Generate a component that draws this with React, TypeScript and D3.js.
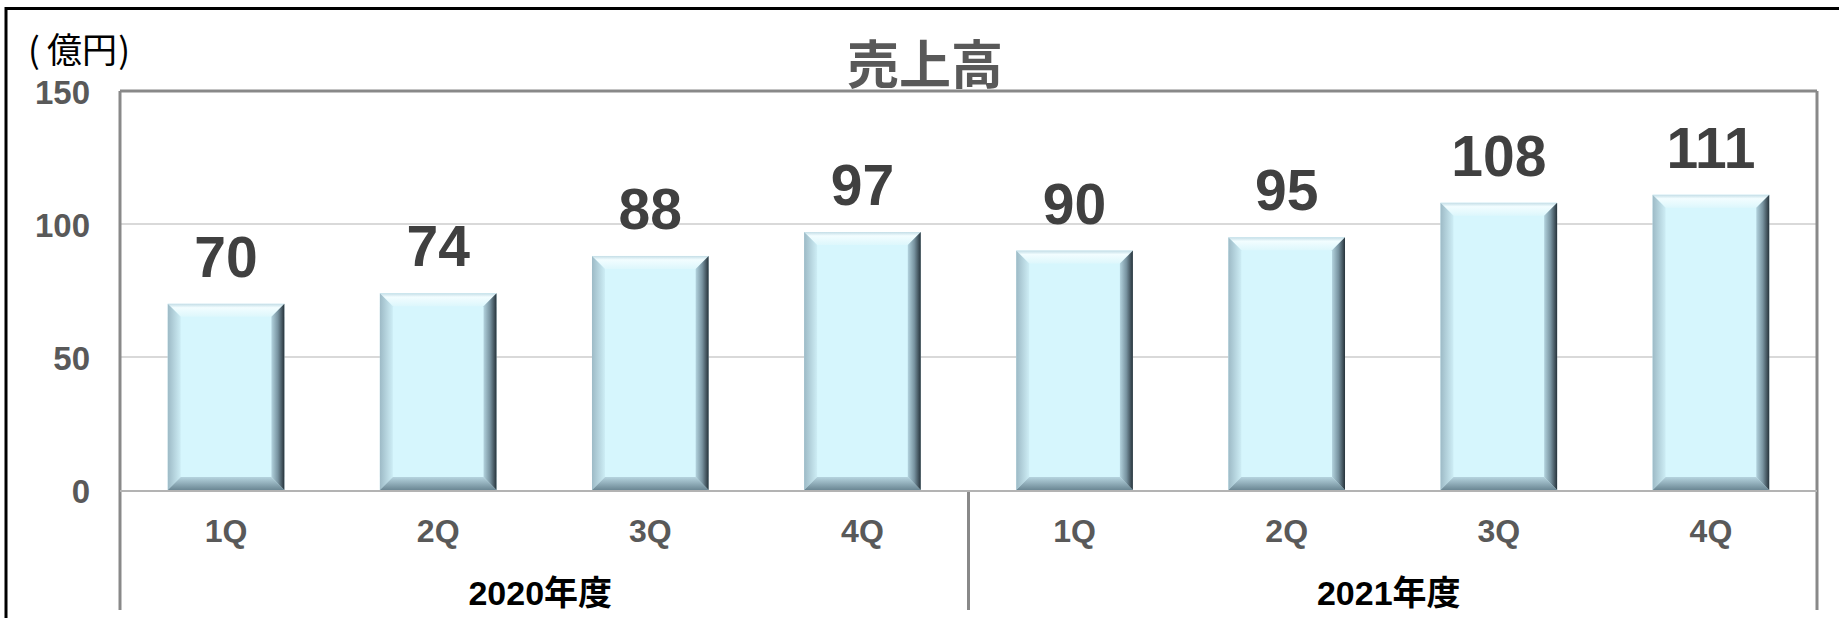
import React from 'react';
import * as d3 from 'd3';

const categories = ['1Q', '2Q', '3Q', '4Q', '1Q', '2Q', '3Q', '4Q'];
const years = ['2020年度', '2021年度'];
const sales = [70, 74, 88, 97, 90, 95, 108, 111];
const yTicks = [0, 50, 100, 150];
const title = '売上高';
const unitLabel = '億円';

const W = 1839;
const H = 618;
const plotL = 120;
const plotR = 1817;
const plotT = 91;
const plotB = 490;
const axisBottom = 610;

export default function App() {
  const x = d3
    .scaleBand<number>()
    .domain(d3.range(sales.length))
    .range([plotL, plotR])
    .paddingInner(0.45)
    .paddingOuter(0.225);
  const y = d3.scaleLinear().domain([0, 150]).range([plotB, plotT]);
  const groupX = d3
    .scaleBand<number>()
    .domain(d3.range(years.length))
    .range([plotL, plotR]);

  const b = 13;
  const jp = "'Liberation Sans', Arial, 'Noto Sans CJK JP', sans-serif";
  const cjk = "'Noto Sans CJK JP', sans-serif";

  return (
    <svg
      width={W}
      height={H}
      viewBox={`0 0 ${W} ${H}`}
      style={{ position: 'absolute', left: 0, top: 0, background: '#fff' }}
    >
      <defs>
        <linearGradient id="gTop" x1="0" y1="0" x2="0" y2="1">
          <stop offset="0" stopColor="#c3dde6" />
          <stop offset="0.3" stopColor="#f2fdff" />
          <stop offset="1" stopColor="#ddf7fc" />
        </linearGradient>
        <linearGradient id="gLeft" x1="0" y1="0" x2="1" y2="0">
          <stop offset="0" stopColor="#9dbac6" />
          <stop offset="1" stopColor="#cdedf5" />
        </linearGradient>
        <linearGradient id="gRight" x1="0" y1="0" x2="1" y2="0">
          <stop offset="0" stopColor="#b3d3de" />
          <stop offset="0.5" stopColor="#7893a0" />
          <stop offset="1" stopColor="#26323a" />
        </linearGradient>
        <linearGradient id="gBottom" x1="0" y1="0" x2="0" y2="1">
          <stop offset="0" stopColor="#b6d4df" />
          <stop offset="1" stopColor="#6b8794" />
        </linearGradient>
      </defs>

      {/* outer frame */}
      <line x1={5} x2={W} y1={8.5} y2={8.5} stroke="#000" strokeWidth={3} />
      <line x1={6} x2={6} y1={7} y2={H} stroke="#000" strokeWidth={3} />

      {/* gridlines */}
      {yTicks
        .filter((t) => t !== 0 && t !== 150)
        .map((t) => (
          <line
            key={'g' + t}
            x1={plotL}
            x2={plotR}
            y1={y(t)}
            y2={y(t)}
            stroke="#d9d9d9"
            strokeWidth={2}
          />
        ))}

      {/* plot border */}
      <line x1={plotL} x2={plotR} y1={plotT} y2={plotT} stroke="#898989" strokeWidth={3} />
      <line x1={plotR} x2={plotR} y1={plotT} y2={axisBottom} stroke="#898989" strokeWidth={3} />
      <line x1={plotL} x2={plotL} y1={plotT} y2={axisBottom} stroke="#898989" strokeWidth={3} />
      <line
        x1={groupX(1) as number}
        x2={groupX(1) as number}
        y1={plotB}
        y2={axisBottom}
        stroke="#898989"
        strokeWidth={3}
      />

      {/* bars */}
      {sales.map((v, i) => {
        const x0 = x(i) as number;
        const x1 = x0 + x.bandwidth();
        const y0 = y(v);
        const y1 = y(0);
        return (
          <g key={'b' + i}>
            <rect x={x0} y={y0} width={x1 - x0} height={y1 - y0} fill="#d6f6fd" />
            <polygon
              points={`${x0},${y0} ${x1},${y0} ${x1 - b},${y0 + b} ${x0 + b},${y0 + b}`}
              fill="url(#gTop)"
            />
            <polygon
              points={`${x0},${y0} ${x0 + b},${y0 + b} ${x0 + b},${y1 - b} ${x0},${y1}`}
              fill="url(#gLeft)"
            />
            <polygon
              points={`${x0},${y1} ${x1},${y1} ${x1 - b},${y1 - b} ${x0 + b},${y1 - b}`}
              fill="url(#gBottom)"
            />
            <polygon
              points={`${x1},${y0} ${x1 - b},${y0 + b} ${x1 - b},${y1 - b} ${x1},${y1}`}
              fill="url(#gRight)"
            />
            <text
              x={x0 + x.bandwidth() / 2}
              y={y0 - 27}
              textAnchor="middle"
              fontFamily={jp}
              fontWeight="bold"
              fontSize={57}
              fill="#404040"
            >
              {v}
            </text>
          </g>
        );
      })}

      {/* baseline */}
      <line x1={plotL} x2={plotR} y1={plotB + 1} y2={plotB + 1} stroke="#b3b3b3" strokeWidth={2} />

      {/* y tick labels */}
      {yTicks.map((t) => (
        <text
          key={'t' + t}
          x={90}
          y={y(t) + 13}
          textAnchor="end"
          fontFamily={jp}
          fontWeight="bold"
          fontSize={33}
          fill="#595959"
        >
          {t}
        </text>
      ))}

      {/* category labels */}
      {categories.map((c, i) => (
        <text
          key={'c' + i}
          x={(x(i) as number) + x.bandwidth() / 2}
          y={542}
          textAnchor="middle"
          fontFamily={jp}
          fontWeight="bold"
          fontSize={32}
          fill="#595959"
        >
          {c}
        </text>
      ))}

      {/* year labels */}
      {years.map((yr, i) => (
        <text
          key={'y' + i}
          x={(groupX(i) as number) + groupX.bandwidth() / 2 - 4}
          y={605}
          textAnchor="middle"
          fontFamily={jp}
          fontWeight="bold"
          fontSize={34}
          fill="#000"
        >
          {yr}
        </text>
      ))}

      {/* title */}
      <text
        x={925}
        y={84}
        textAnchor="middle"
        fontFamily={cjk}
        fontWeight="bold"
        fontSize={52}
        fill="#595959"
      >
        {title}
      </text>

      {/* unit */}
      <text x={28} y={63} fontFamily={cjk} fontSize={35} fill="#000">
        (
      </text>
      <text x={82} y={63} textAnchor="middle" fontFamily={cjk} fontSize={35} fill="#000">
        {unitLabel}
      </text>
      <text x={130} y={63} textAnchor="end" fontFamily={cjk} fontSize={35} fill="#000">
        )
      </text>
    </svg>
  );
}
